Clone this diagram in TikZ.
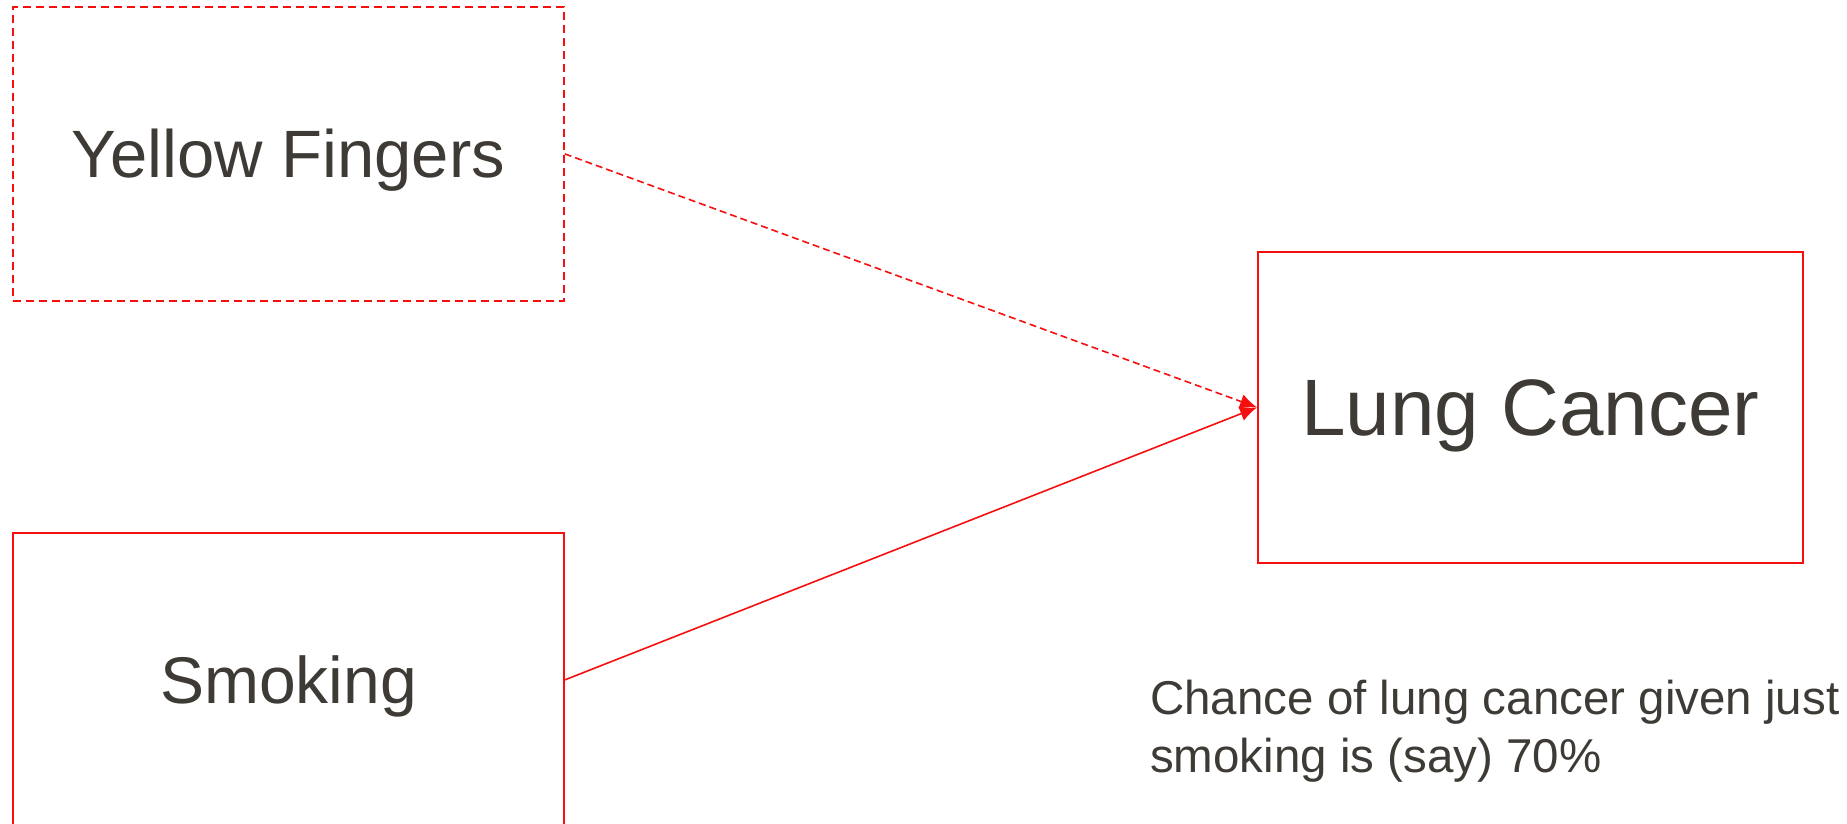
\documentclass[tikz,border=0pt]{standalone}
\usepackage{fontspec}
\setmainfont{Liberation Sans}
\usetikzlibrary{arrows.meta}
\definecolor{boxred}{RGB}{245,15,15}
\definecolor{txtgrey}{RGB}{62,58,53}
\tikzset{
  varbox/.style={draw=boxred, line width=1.8pt, inner sep=0pt, anchor=north west,
    text=txtgrey, align=center},
  dashbox/.style={varbox, dash pattern=on 8pt off 5pt},
  link/.style={draw=boxred, line width=1.6pt, -{Latex[length=17pt,width=15pt]}},
  dashlink/.style={link, dash pattern=on 7pt off 4pt},
  notetext/.style={text=txtgrey, inner sep=0pt, anchor=base west, align=left,
    font=\fontsize{47.5}{58}\selectfont}
}
\begin{document}
\begin{tikzpicture}[x=1pt,y=-1pt]
\useasboundingbox (0,0) rectangle (1847,824);
\node[dashbox, minimum width=551pt, minimum height=294pt,
      text height=48pt, text depth=0pt, font=\fontsize{67}{80}\selectfont]
      (yellow) at (12,6) {Yellow Fingers};
\node[varbox, minimum width=551pt, minimum height=294pt,
      text height=47pt, text depth=0pt, font=\fontsize{66}{79}\selectfont]
      (smoking) at (12,532) {Smoking};
\node[varbox, minimum width=545pt, minimum height=311pt,
      text height=57pt, text depth=0pt, font=\fontsize{80}{96}\selectfont]
      (lung) at (1257,251) {Lung Cancer};
\node[notetext] (note) at (1150,772) {Chance of lung cancer given just\\smoking is (say) 70\%};
\draw[dashlink] (yellow.east) -- (lung.west);
\draw[link] (smoking.east) -- (lung.west);
\end{tikzpicture}
\end{document}
